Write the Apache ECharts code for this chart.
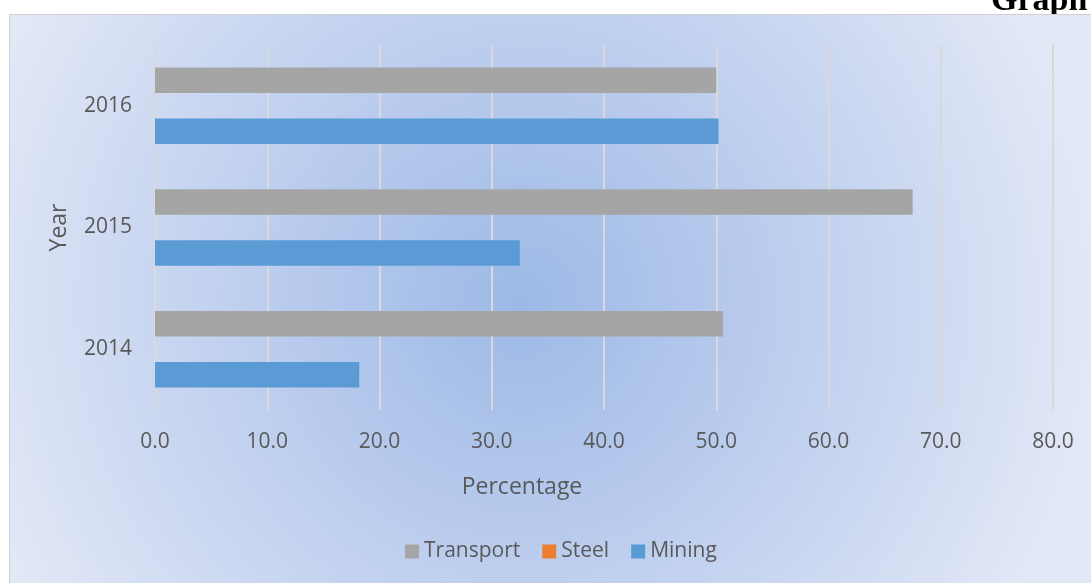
<!DOCTYPE html>
<html>
<head>
<meta charset="utf-8">
<script src="https://cdn.jsdelivr.net/npm/echarts@6/dist/echarts.min.js"></script>
<style>
html,body{margin:0;padding:0;background:#fff;}
#c{width:1091px;height:583px;}
</style>
</head>
<body>
<div id="c"></div>
<script>
const categories = ['2014', '2015', '2016'];
const transport = [50.6, 67.5, 50.0];
const steel = [0, 0, 0];
const mining = [18.2, 32.5, 50.2];
const xTicks = { min: 0, max: 80, interval: 10 };

const chart = echarts.init(document.getElementById('c'), null, { renderer: 'canvas' });
const font = '"Open Sans", Lato, sans-serif';
const txt = '#595959';

chart.setOption({
  animation: false,
  graphic: [
    { type: 'text', z: -20, left: 991, top: -16,
      style: { text: 'Graph', font: 'bold 34px "Liberation Serif", "Times New Roman", serif', fill: '#000' } },
    { type: 'rect', z: -10, shape: { x: 9.5, y: 14.5, width: 1090, height: 575 },
      style: {
        stroke: '#d0d0d0', lineWidth: 1,
        fill: { type: 'radial', x: 0.47, y: 0.5, r: 1.0,
          colorStops: [
            { offset: 0, color: '#9cb9e6' },
            { offset: 0.45, color: '#bccdee' },
            { offset: 1, color: '#e2e8f6' }
          ] }
      } },
    { type: 'text', z: 10, x: 522, y: 487,
      style: { text: 'Percentage', fill: txt, font: '23px "Open Sans", Lato, sans-serif',
        align: 'center', verticalAlign: 'middle' } }
  ],
  grid: { left: 155, right: 38, top: 45, bottom: 173, containLabel: false },
  legend: {
    data: ['Transport', 'Steel', 'Mining'],
    bottom: 16, left: 400,
    itemWidth: 14, itemHeight: 14, itemGap: 22, icon: 'rect',
    textStyle: { color: txt, fontSize: 21, fontFamily: font }
  },
  xAxis: {
    type: 'value', min: xTicks.min, max: xTicks.max, interval: xTicks.interval,
    axisLine: { show: false }, axisTick: { show: false },
    axisLabel: { color: txt, fontSize: 21, fontFamily: font, margin: 22,
      formatter: v => v.toFixed(1) },
    splitLine: { show: true, lineStyle: { color: '#d9d9d9', width: 2 } }
  },
  yAxis: {
    type: 'category', data: categories,
    name: 'Year', nameLocation: 'middle', nameGap: 84, nameRotate: 90,
    nameTextStyle: { color: txt, fontSize: 23, fontFamily: font },
    axisLine: { show: false }, axisTick: { show: false },
    axisLabel: { color: txt, fontSize: 21, fontFamily: font, margin: 23 }
  },
  series: [
    { name: 'Transport', type: 'bar', data: transport, barWidth: 25.5, barGap: '0%',
      itemStyle: { color: '#a5a5a5' } },
    { name: 'Steel', type: 'bar', data: steel, barWidth: 25.5, barGap: '0%',
      itemStyle: { color: '#ed7d31' } },
    { name: 'Mining', type: 'bar', data: mining, barWidth: 25.5, barGap: '0%',
      itemStyle: { color: '#5b9bd5' } }
  ]
});
</script>
</body>
</html>
